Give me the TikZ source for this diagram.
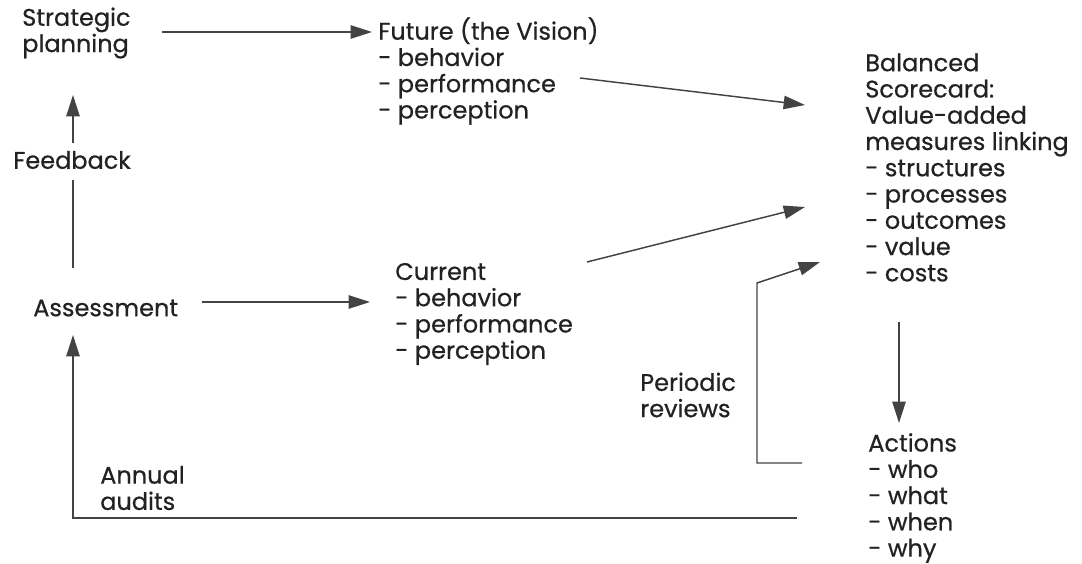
\documentclass[tikz,border=0pt]{standalone}
\usepackage{fontspec}
\setmainfont{Poppins}[FakeBold=0.6]
\usepackage{xcolor}
\usepackage{tikz}
\usetikzlibrary{arrows.meta}
\usetikzlibrary{calc}
\definecolor{ink}{HTML}{222222}
\tikzset{
    lbl/.style = {align=left, inner sep=0pt, anchor=west, text=ink, font=\fontsize{18pt}{19.7pt}\selectfont},
    link/.style = {->, line width=1.1pt, draw=ink!85},
    plain/.style = {-, line width=1.1pt, draw=ink!85}
}

\begin{document}
\begin{tikzpicture}
            [x=0.75pt, y=-0.75pt,
            >={Triangle[length=16pt, width=10pt]}]

            \useasboundingbox (0,0) rectangle (1082,564);

            % left column
            \node [lbl] (strat) at (22,33) {Strategic\\planning};
            \node [lbl, anchor=center] (feedback) at (72,160) {Feedback};
            \node [lbl] (assess) at (33,308) {Assessment};
            \node [lbl] (annual) at (100,488) {Annual\\audits};

            % middle column
            \node [lbl] (future) at (378,71) {Future (the Vision)\\- behavior\\- performance\\- perception};
            \node [lbl] (current) at (395,314) {Current\\- behavior\\- performance\\- perception};
            \node [lbl] (periodic) at (640,395) {Periodic\\reviews};

            % right column
            \node [lbl] (bsc) at (865,167.5) {Balanced\\Scorecard:\\Value-added\\measures linking\\- structures\\- processes\\- outcomes\\- value\\- costs};
            \node [lbl] (actions) at (868,498) {Actions\\- who\\- what\\- when\\- why};

            \draw [link] ($(strat.west)+(140,-1)$) -- ($(future.west)+(-6,-39)$);
            \draw [link] ($(assess.west)+(169,-6)$) -- ($(current.west)+(-25,-12)$);
            \draw [link] ($(future.west)+(202,7)$) -- ($(bsc.west)+(-60,-62.5)$);
            \draw [link] ($(current.west)+(192,-52)$) -- ($(bsc.west)+(-60,39.5)$);
            \draw [link] ($(bsc.west)+(34,154.5)$) -- ($(actions.west)+(31,-75)$);

            % feedback loop
            \draw [plain] ($(assess.west)+(40,-40)$) -- ($(feedback.center)+(1,20)$);
            \draw [link] ($(feedback.center)+(1,-17)$) -- ($(strat.west)+(51,62)$);
            \draw [link] ($(actions.west)+(-71,20)$) -| ($(assess.west)+(40,27)$);
            \draw [link] ($(actions.west)+(-66,-35)$) -- ++(-45,0) -- ++(0,-180) -- ($(bsc.west)+(-45,94.5)$);
        \end{tikzpicture}
\end{document}
